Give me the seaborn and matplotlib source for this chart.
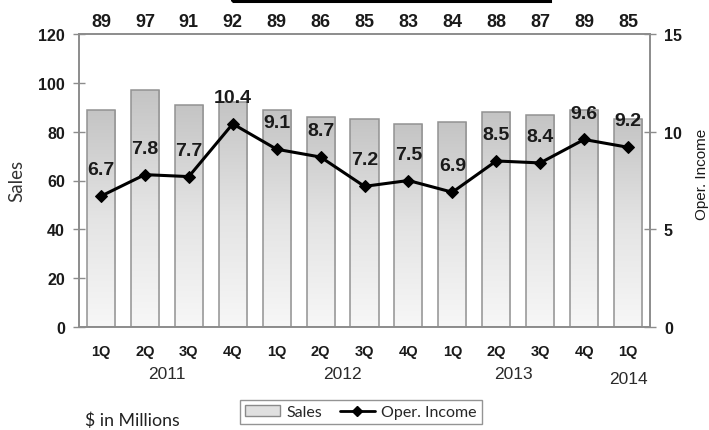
import numpy as np
import pandas as pd
import matplotlib
matplotlib.use("Agg")
import matplotlib.pyplot as plt
import matplotlib.transforms as mtransforms
import seaborn as sns
from matplotlib.patches import Rectangle, Patch
from matplotlib.lines import Line2D
from matplotlib.colors import LinearSegmentedColormap

# Quarterly sales and operating income ($ in millions)
quarters = ["1Q", "2Q", "3Q", "4Q", "1Q", "2Q", "3Q", "4Q", "1Q", "2Q", "3Q", "4Q", "1Q"]
years = ["2011", "2012", "2013", "2014"]
year_positions = [1.5, 5.5, 9.4, 12.0]
sales = [89, 97, 91, 92, 89, 86, 85, 83, 84, 88, 87, 89, 85]
oper_income = [6.7, 7.8, 7.7, 10.4, 9.1, 8.7, 7.2, 7.5, 6.9, 8.5, 8.4, 9.6, 9.2]

sns.set_theme(style="white")
plt.rcParams["font.family"] = ["Liberation Sans", "DejaVu Sans"]

GRID = "#8c8c8c"
TEXT = "#1a1a1a"

fig = plt.figure(figsize=(7.09, 4.31), dpi=100)
ax = fig.add_axes([79 / 709, 1 - 328 / 431, 571 / 709, 293 / 431])

df = pd.DataFrame({"idx": list(range(len(sales))), "sales": sales})
sns.barplot(data=df, x="idx", y="sales", ax=ax, width=0.64, color="#c8c8c8",
            edgecolor="#929292", linewidth=1.1, saturation=1)

# Vertical grey-to-white fill inside each bar
cmap = LinearSegmentedColormap.from_list("barfill", ["#f7f7f7", "#e4e4e4", "#c4c4c4"])
grad = np.linspace(0, 1, 256).reshape(-1, 1)
for p in list(ax.patches):
    x0, y0 = p.get_x(), p.get_y()
    w, h = p.get_width(), p.get_height()
    im = ax.imshow(grad, extent=[x0, x0 + w, y0, y0 + h], origin="lower",
                   aspect="auto", cmap=cmap, zorder=p.get_zorder() - 0.1)
    im.set_clip_path(p)
    p.set_facecolor("none")

ax.set_xlim(-0.5, 12.5)
ax.set_ylim(0, 120)
ax.set_yticks(range(0, 121, 20))
ax.set_xlabel("")
ax.set_ylabel("")

# Category boundaries get tick marks; quarter names sit at bar centres
ax.set_xticks(np.arange(0.5, 12, 1))
ax.set_xticklabels([])
ax.set_xticks(range(len(quarters)), minor=True)
ax.set_xticklabels(quarters, minor=True, fontweight="bold", color=TEXT)
ax.tick_params(axis="x", which="major", direction="inout", length=7, width=1, color=GRID)
ax.tick_params(axis="x", which="minor", length=0, pad=12, labelsize=10.5)
ax.tick_params(axis="y", direction="inout", length=8, width=1, color=GRID, pad=6,
               labelsize=11.5, labelcolor=TEXT, left=True)
for lab in ax.get_yticklabels():
    lab.set_fontweight("bold")

for s in ax.spines.values():
    s.set_color(GRID)
    s.set_linewidth(1.2)

ax2 = ax.twinx()
sns.lineplot(x=list(range(len(oper_income))), y=oper_income, ax=ax2, color="black",
             linewidth=2.2, marker="D", markersize=6.5, markeredgecolor="black")
ax2.set_ylim(0, 15)
ax2.set_yticks([0, 5, 10, 15])
ax2.tick_params(axis="y", direction="inout", length=8, width=1, color=GRID, pad=6,
                labelsize=11.5, labelcolor=TEXT, right=True)
for lab in ax2.get_yticklabels():
    lab.set_fontweight("bold")
for s in ax2.spines.values():
    s.set_color(GRID)
    s.set_linewidth(1.2)
ax2.set_ylabel("")

# Operating income values above the line markers
for i, v in enumerate(oper_income):
    ax2.annotate(f"{v}", (i, v), xytext=(0, 19), textcoords="offset points",
                 ha="center", va="center", fontsize=14, fontweight="bold", color=TEXT)

# Sales values in a row above the plot
trans = mtransforms.blended_transform_factory(ax.transData, ax.transAxes)
for i, s in enumerate(sales):
    ax.text(i, 1.044, str(s), transform=trans, ha="center", va="center",
            fontsize=13, fontweight="bold", color=TEXT)

# Year labels under the quarter names
year_y = [-0.16, -0.16, -0.16, -0.175]
for yr, xp, yy in zip(years, year_positions, year_y):
    ax.text(xp, yy, yr, transform=trans, ha="center", va="center",
            fontsize=12.5, color="#2a2a2a")

fig.text(17 / 709, 1 - 181 / 431, "Sales", rotation=90, ha="center", va="center",
         fontsize=13.5, color="#333333", family=["Lato", "DejaVu Sans"])
fig.text(702 / 709, 1 - 174 / 431, "Oper. Income", rotation=90, ha="center",
         va="center", fontsize=11, color=TEXT)
fig.text(85 / 709, 1 - 421 / 431, "$ in Millions", ha="left", va="center",
         fontsize=12.8, color="#222222", family=["Lato", "DejaVu Sans"])

handles = [
    Patch(facecolor="#e0e0e0", edgecolor="#8a8a8a", linewidth=1.0, label="Sales"),
    Line2D([0], [0], color="black", linewidth=2, marker="D", markersize=5,
           label="Oper. Income"),
]
leg = fig.legend(handles=handles, loc="center", bbox_to_anchor=(361 / 709, 1 - 413 / 431),
                 ncol=2, frameon=True, fancybox=False, edgecolor="#7a7a7a",
                 handlelength=2.2, columnspacing=1.1, handletextpad=0.4,
                 borderpad=0.3, prop={"family": ["Lato", "DejaVu Sans"], "size": 11.5})
leg.get_frame().set_linewidth(1.0)

# Heading box edge along the top of the figure
fig.add_artist(Rectangle((232 / 709, 1 - 2 / 431), 318 / 709, 0.05,
                         transform=fig.transFigure, fill=False, edgecolor="black",
                         linewidth=2.2, clip_on=False))

fig.savefig("out.png", dpi=100, facecolor="white")
